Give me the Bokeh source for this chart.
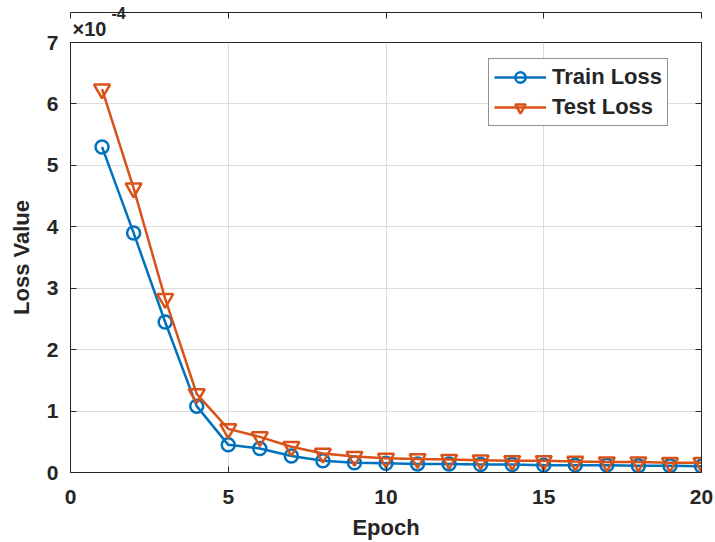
from bokeh.plotting import figure
from bokeh.models import Range1d, LinearAxis, FixedTicker, Legend, LegendItem, Title
from bokeh.embed import file_html
from bokeh.resources import INLINE

epochs = list(range(1, 21))
train_loss = [5.30, 3.90, 2.45, 1.08, 0.45, 0.39, 0.27, 0.19, 0.16, 0.15,
              0.14, 0.14, 0.13, 0.13, 0.12, 0.12, 0.12, 0.11, 0.11, 0.10]
test_loss = [6.24, 4.63, 2.83, 1.28, 0.71, 0.58, 0.42, 0.31, 0.26, 0.23,
             0.22, 0.21, 0.20, 0.19, 0.19, 0.18, 0.17, 0.17, 0.16, 0.16]
x_ticks = [0, 5, 10, 15, 20]
y_ticks = [0, 1, 2, 3, 4, 5, 6, 7]

BLUE = "#0072BD"
ORANGE = "#D95319"
DARK = "#262626"
FONT = "Liberation Sans"

p = figure(width=715, height=542, output_backend="svg", toolbar_location=None,
           x_range=Range1d(0, 20), y_range=Range1d(0, 7),
           min_border_left=70, min_border_right=14, min_border_top=42, min_border_bottom=69)
p.background_fill_color = "white"
p.border_fill_color = "white"
p.outline_line_color = DARK
p.outline_line_width = 1

# exponent (outermost row) and multiplier
p.title.text = "-4"
p.title.align = "left"
p.title.offset = 41
p.title.text_font = FONT
p.title.text_font_style = "bold"
p.title.text_font_size = "16px"
p.title.text_color = DARK
p.title.standoff = -13
mult = Title(text="×10", align="left", offset=2, text_font=FONT, text_font_style="bold",
             text_font_size="20px", text_color=DARK, standoff=6)
p.add_layout(mult, "above")

for ax in (p.xaxis[0], p.yaxis[0]):
    ax.major_label_text_font = FONT
    ax.major_label_text_font_style = "bold"
    ax.major_label_text_font_size = "21px"
    ax.major_label_text_color = DARK
    ax.axis_label_text_font = FONT
    ax.axis_label_text_font_style = "bold"
    ax.axis_label_text_font_size = "22px"
    ax.axis_label_text_color = DARK
    ax.axis_line_color = DARK
    ax.major_tick_line_color = DARK
    ax.major_tick_in = 6
    ax.major_tick_out = 0
    ax.minor_tick_line_color = None

p.xaxis[0].ticker = FixedTicker(ticks=x_ticks)
p.yaxis[0].ticker = FixedTicker(ticks=y_ticks)
p.xaxis[0].axis_label = "Epoch"
p.yaxis[0].axis_label = "Loss Value"
p.xaxis[0].major_label_standoff = 17
p.yaxis[0].major_label_standoff = 12
p.xaxis[0].axis_label_standoff = 8
p.yaxis[0].axis_label_standoff = 10

for loc, tk in (("right", y_ticks), ("above", x_ticks)):
    ax = LinearAxis(ticker=FixedTicker(ticks=tk),
                    major_label_overrides={t: "" for t in tk},
                    axis_line_color=DARK, major_tick_line_color=DARK,
                    major_tick_in=6, major_tick_out=0, minor_tick_line_color=None,
                    major_label_standoff=0)
    p.add_layout(ax, loc)

p.xgrid.ticker = FixedTicker(ticks=x_ticks)
p.ygrid.ticker = FixedTicker(ticks=y_ticks)
p.grid.grid_line_color = "#dcdcdc"
p.grid.grid_line_width = 1

l1 = p.line(epochs, train_loss, line_color=BLUE, line_width=2.5)
s1 = p.scatter(epochs, train_loss, marker="circle", size=13, line_color=BLUE,
               line_width=2.5, fill_color=None)
l2 = p.line(epochs, test_loss, line_color=ORANGE, line_width=2.5)
s2 = p.scatter(epochs, test_loss, marker="inverted_triangle", size=16, line_color=ORANGE,
               line_width=2.5, fill_color=None)

legend = Legend(items=[LegendItem(label="Train Loss", renderers=[l1, s1]),
                       LegendItem(label="Test Loss", renderers=[l2, s2])],
                location=(418, 346))
legend.label_text_font = FONT
legend.label_text_font_style = "bold"
legend.label_text_font_size = "22px"
legend.label_text_color = DARK
legend.border_line_color = DARK
legend.border_line_width = 1
legend.glyph_width = 52
legend.glyph_height = 26
legend.label_height = 26
legend.spacing = 4
legend.padding = 5
legend.margin = 0
legend.label_standoff = 6
p.add_layout(legend, "center")

open("out.html", "w").write(file_html(p, INLINE))
